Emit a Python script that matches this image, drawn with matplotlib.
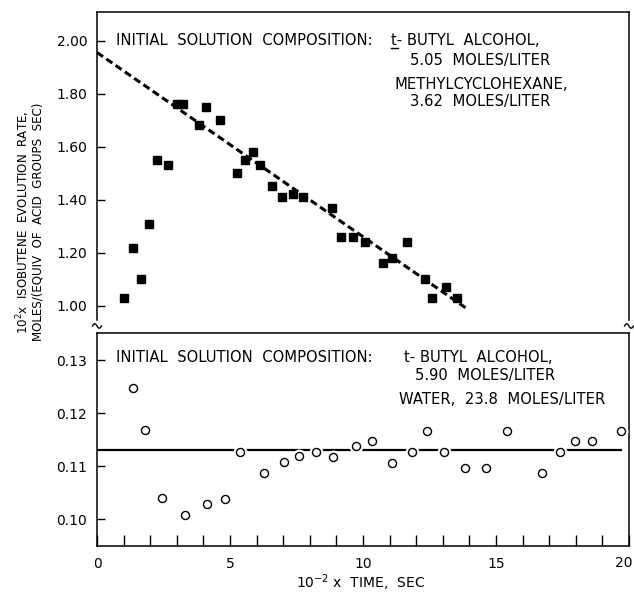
import numpy as np
import matplotlib
matplotlib.use("Agg")
from matplotlib import pyplot as plt
from matplotlib.lines import Line2D
from matplotlib.ticker import MultipleLocator, FormatStrFormatter

# upper panel: t-butyl alcohol / methylcyclohexane (filled squares)
top_t = [1.03, 1.37, 1.67, 1.94, 2.27, 2.66, 3.00, 3.22, 3.84, 4.10, 4.62,
         5.26, 5.58, 5.85, 6.14, 6.58, 6.95, 7.36, 7.74, 8.85, 9.17, 9.61,
         10.08, 10.75, 11.10, 11.67, 12.34, 12.61, 13.12, 13.55]
top_rate = [1.03, 1.22, 1.10, 1.31, 1.55, 1.53, 1.76, 1.76, 1.68, 1.75, 1.70,
            1.50, 1.55, 1.58, 1.53, 1.45, 1.41, 1.42, 1.41, 1.37, 1.26, 1.26,
            1.24, 1.16, 1.18, 1.24, 1.10, 1.03, 1.07, 1.03]
top_fit_t = [0.0, 13.9]
top_fit_rate = [1.955, 0.99]

# lower panel: t-butyl alcohol / water (open circles)
bot_t = [1.35, 1.82, 2.44, 3.32, 4.12, 4.80, 5.38, 6.27, 7.02, 7.61, 8.22,
         8.88, 9.73, 10.34, 11.09, 11.84, 12.39, 13.05, 13.82, 14.61, 15.41,
         16.73, 17.39, 17.97, 18.61, 19.70]
bot_rate = [0.1247, 0.1168, 0.1040, 0.1008, 0.1028, 0.1038, 0.1127, 0.1087,
            0.1107, 0.1119, 0.1127, 0.1118, 0.1138, 0.1148, 0.1106, 0.1126,
            0.1167, 0.1126, 0.1097, 0.1097, 0.1167, 0.1087, 0.1126, 0.1147,
            0.1147, 0.1167]
bot_fit_t = [0.0, 19.7]
bot_fit_rate = [0.1130, 0.1130]

top_ticks = [1.00, 1.20, 1.40, 1.60, 1.80, 2.00]
bot_ticks = [0.10, 0.11, 0.12, 0.13]
x_ticks = [0, 5, 10, 15, 20]
x_labels = ["0", "5", "10", "15", ""]

W, H = 634, 592
fig = plt.figure(figsize=(W / 100, H / 100), dpi=100)
L, R = 97, 629
top_y0, split_y, bot_y1 = 12, 333, 545.7
ax1 = fig.add_axes([L / W, 1 - split_y / H, (R - L) / W, (split_y - top_y0) / H])
ax2 = fig.add_axes([L / W, 1 - bot_y1 / H, (R - L) / W, (bot_y1 - split_y) / H])

fs = 10
tfs = 10.6
lw_sp = 1.1

# ---- top panel
ax1.plot(top_fit_t, top_fit_rate, color="black", lw=2.2,
         linestyle=(0, (2.4, 1.3)), zorder=2)
ax1.plot(top_t, top_rate, "s", color="black", ms=5.6, zorder=3)
ax1.set_xlim(0, 20)
ax1.set_ylim(0.898, 2.1075)
ax1.set_yticks(top_ticks)
ax1.yaxis.set_major_formatter(FormatStrFormatter("%.2f"))
ax1.tick_params(axis="y", direction="in", length=6, width=1, labelsize=fs, pad=7)
ax1.tick_params(axis="x", bottom=False, labelbottom=False)
ax1.spines["bottom"].set_visible(False)
ax1.spines["left"].set_bounds(0.947, 2.1075)
ax1.spines["right"].set_bounds(0.947, 2.1075)
for s in ax1.spines.values():
    s.set_linewidth(lw_sp)

ax1.text(0.71, 2.00, "INITIAL  SOLUTION  COMPOSITION:", fontsize=tfs, va="center")
ax1.text(11.05, 2.00, "t- BUTYL  ALCOHOL,", fontsize=tfs, va="center")
ax1.plot([11.05, 11.30], [1.970, 1.970], color="black", lw=1)
ax1.text(11.77, 1.926, "5.05  MOLES/LITER", fontsize=tfs, va="center")
ax1.text(11.20, 1.836, "METHYLCYCLOHEXANE,", fontsize=tfs, va="center")
ax1.text(11.77, 1.772, "3.62  MOLES/LITER", fontsize=tfs, va="center")

# ---- bottom panel
ax2.plot(bot_fit_t, bot_fit_rate, color="black", lw=1.6, zorder=2)
ax2.plot(bot_t, bot_rate, "o", color="white", ms=9, zorder=3)
ax2.plot(bot_t, bot_rate, "o", mfc="white", mec="black", mew=1.0, ms=5.8, zorder=4)
ax2.set_xlim(0, 20)
ax2.set_ylim(0.09502, 0.1351)
ax2.set_yticks(bot_ticks)
ax2.yaxis.set_major_formatter(FormatStrFormatter("%.2f"))
ax2.set_xticks(x_ticks)
ax2.set_xticklabels(x_labels)
ax2.xaxis.set_minor_locator(MultipleLocator(1))
ax2.tick_params(axis="y", direction="in", length=6, width=1, labelsize=fs, pad=7)
ax2.tick_params(axis="x", which="both", direction="in", length=8, width=1,
                labelsize=fs, pad=8)
for s in ax2.spines.values():
    s.set_linewidth(lw_sp)
# last x tick label pulled in from the edge, as in the original
fig.text(624 / W, 1 - 563 / H, "20", fontsize=fs, ha="center", va="center")

ax2.text(0.71, 0.1304, "INITIAL  SOLUTION  COMPOSITION:", fontsize=tfs, va="center")
ax2.text(11.54, 0.1304, "t- BUTYL  ALCOHOL,", fontsize=tfs, va="center")
ax2.text(11.95, 0.1270, "5.90  MOLES/LITER", fontsize=tfs, va="center")
ax2.text(11.34, 0.1226, "WATER,  23.8  MOLES/LITER", fontsize=tfs, va="center")

# ---- axis break squiggles
def squiggle(xpix, ypix):
    t = np.linspace(0, 1, 30)
    xs = xpix + (t - 0.5) * 9
    ys = (H - ypix) + 2.2 * np.sin(2 * np.pi * t)
    fig.add_artist(Line2D(xs, ys, color="black", lw=1.0,
                          transform=matplotlib.transforms.IdentityTransform()))

squiggle(L, 326)
squiggle(R, 326)

# ---- labels
fig.text(23 / W, 1 - 222 / H, "10$^2$x  ISOBUTENE  EVOLUTION  RATE,",
         rotation=90, fontsize=8.6, ha="center", va="center")
fig.text(38 / W, 1 - 222 / H, "MOLES/(EQUIV  OF  ACID  GROUPS  SEC)",
         rotation=90, fontsize=8.6, ha="center", va="center")
fig.text(361 / W, 1 - 583 / H, "10$^{-2}$ x  TIME,  SEC", fontsize=fs,
         ha="center", va="center")

fig.savefig("out.png", dpi=100)
